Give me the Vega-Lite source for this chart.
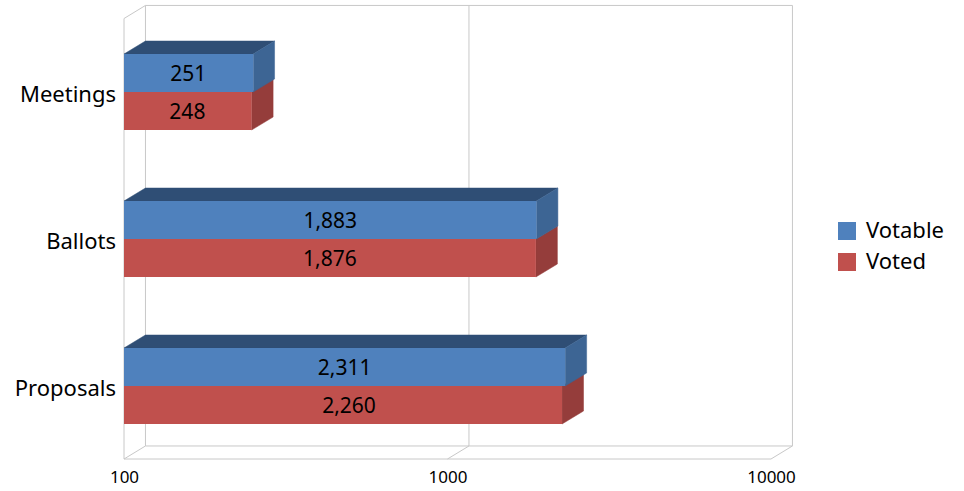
{
"$schema":"https://vega.github.io/schema/vega-lite/v6.json",
"autosize":"none","width":670,"height":454,
"padding":{"left":124,"top":5,"right":170,"bottom":32},
"background":"white",
"config":{"font":"Noto Sans","view":{"stroke":null}},
"datasets":{
"bars":[
{"category":"Meetings","series":"Votable","value":251,"lo":2,"hi":2.2585,"labelAt":158,"labelLevel":2.129},
{"category":"Meetings","series":"Voted","value":248,"lo":1.7415,"hi":2,"labelAt":157,"labelLevel":1.871},
{"category":"Ballots","series":"Votable","value":1883,"lo":1,"hi":1.2585,"labelAt":434,"labelLevel":1.129},
{"category":"Ballots","series":"Voted","value":1876,"lo":0.7415,"hi":1,"labelAt":433,"labelLevel":0.871},
{"category":"Proposals","series":"Votable","value":2311,"lo":0,"hi":0.2585,"labelAt":481,"labelLevel":0.129},
{"category":"Proposals","series":"Voted","value":2260,"lo":-0.2585,"hi":0,"labelAt":496,"labelLevel":-0.129}
],
"faces":[
{"face":"Meetings top","kind":"top","n":1,"value":100,"level":2.2585},
{"face":"Meetings top","kind":"top","n":2,"value":251,"level":2.2585},
{"face":"Meetings top","kind":"top","n":3,"value":292,"level":2.3469},
{"face":"Meetings top","kind":"top","n":4,"value":116.5,"level":2.3469},
{"face":"Meetings top","kind":"top","n":5,"value":100,"level":2.2585},
{"face":"Ballots top","kind":"top","n":1,"value":100,"level":1.2585},
{"face":"Ballots top","kind":"top","n":2,"value":1883,"level":1.2585},
{"face":"Ballots top","kind":"top","n":3,"value":2194,"level":1.3469},
{"face":"Ballots top","kind":"top","n":4,"value":116.5,"level":1.3469},
{"face":"Ballots top","kind":"top","n":5,"value":100,"level":1.2585},
{"face":"Proposals top","kind":"top","n":1,"value":100,"level":0.2585},
{"face":"Proposals top","kind":"top","n":2,"value":2311,"level":0.2585},
{"face":"Proposals top","kind":"top","n":3,"value":2692,"level":0.3469},
{"face":"Proposals top","kind":"top","n":4,"value":116.5,"level":0.3469},
{"face":"Proposals top","kind":"top","n":5,"value":100,"level":0.2585},
{"face":"Meetings blue","kind":"blueSide","n":1,"value":251,"level":2},
{"face":"Meetings blue","kind":"blueSide","n":2,"value":251,"level":2.2585},
{"face":"Meetings blue","kind":"blueSide","n":3,"value":292,"level":2.3469},
{"face":"Meetings blue","kind":"blueSide","n":4,"value":292,"level":2.0884},
{"face":"Meetings blue","kind":"blueSide","n":5,"value":251,"level":2},
{"face":"Ballots blue","kind":"blueSide","n":1,"value":1883,"level":1},
{"face":"Ballots blue","kind":"blueSide","n":2,"value":1883,"level":1.2585},
{"face":"Ballots blue","kind":"blueSide","n":3,"value":2194,"level":1.3469},
{"face":"Ballots blue","kind":"blueSide","n":4,"value":2194,"level":1.0884},
{"face":"Ballots blue","kind":"blueSide","n":5,"value":1883,"level":1},
{"face":"Proposals blue","kind":"blueSide","n":1,"value":2311,"level":0},
{"face":"Proposals blue","kind":"blueSide","n":2,"value":2311,"level":0.2585},
{"face":"Proposals blue","kind":"blueSide","n":3,"value":2692,"level":0.3469},
{"face":"Proposals blue","kind":"blueSide","n":4,"value":2692,"level":0.0884},
{"face":"Proposals blue","kind":"blueSide","n":5,"value":2311,"level":0},
{"face":"Meetings red","kind":"redSide","n":1,"value":248,"level":1.7415},
{"face":"Meetings red","kind":"redSide","n":2,"value":248,"level":2},
{"face":"Meetings red","kind":"redSide","n":3,"value":289,"level":2.0884},
{"face":"Meetings red","kind":"redSide","n":4,"value":289,"level":1.8299},
{"face":"Meetings red","kind":"redSide","n":5,"value":248,"level":1.7415},
{"face":"Ballots red","kind":"redSide","n":1,"value":1876,"level":0.7415},
{"face":"Ballots red","kind":"redSide","n":2,"value":1876,"level":1},
{"face":"Ballots red","kind":"redSide","n":3,"value":2186,"level":1.0884},
{"face":"Ballots red","kind":"redSide","n":4,"value":2186,"level":0.8299},
{"face":"Ballots red","kind":"redSide","n":5,"value":1876,"level":0.7415},
{"face":"Proposals red","kind":"redSide","n":1,"value":2260,"level":-0.2585},
{"face":"Proposals red","kind":"redSide","n":2,"value":2260,"level":0},
{"face":"Proposals red","kind":"redSide","n":3,"value":2633,"level":0.0884},
{"face":"Proposals red","kind":"redSide","n":4,"value":2633,"level":-0.1701},
{"face":"Proposals red","kind":"redSide","n":5,"value":2260,"level":-0.2585}
],
"frame":[
{"path":"floor","n":1,"value":100,"level":-0.4966},
{"path":"floor","n":2,"value":10000,"level":-0.4966},
{"path":"floor","n":3,"value":11650,"level":-0.408},
{"path":"floor","n":4,"value":116.5,"level":-0.408},
{"path":"floor","n":5,"value":100,"level":-0.4966},
{"path":"wall100","n":1,"value":100,"level":-0.4966},
{"path":"wall100","n":2,"value":100,"level":2.5},
{"path":"wall100","n":3,"value":116.5,"level":2.589},
{"path":"wall100","n":4,"value":11650,"level":2.589},
{"path":"wall100","n":5,"value":11650,"level":-0.408},
{"path":"back100","n":1,"value":116.5,"level":-0.408},
{"path":"back100","n":2,"value":116.5,"level":2.589},
{"path":"grid1000","n":1,"value":1000,"level":-0.4966},
{"path":"grid1000","n":2,"value":1165,"level":-0.408},
{"path":"grid1000","n":3,"value":1165,"level":2.589}
],
"cats":[
{"category":"Meetings","level":2},
{"category":"Ballots","level":1},
{"category":"Proposals","level":0}
]
},
"encoding":{
"x":{"type":"quantitative","scale":{"type":"log","domain":[100,11779]},"title":null,
"axis":{"values":[100,1000,10000],"domain":false,"ticks":false,"grid":false,"labelFontSize":17,"labelColor":"#000","labelPadding":10,"labelFlush":false,"labelFont":"Noto Sans","format":"d"}},
"y":{"type":"quantitative","scale":{"domain":[-0.4966,2.592],"nice":false,"zero":false},"axis":null}
},
"layer":[
{"data":{"name":"frame"},"mark":{"type":"line","stroke":"#c8c8c8","strokeWidth":1,"clip":false},
 "encoding":{"x":{"field":"value"},"y":{"field":"level"},"detail":{"field":"path"},"order":{"field":"n"}}},
{"data":{"name":"faces"},"transform":[{"filter":"datum.kind==='top'"}],"mark":{"type":"line","fill":"#2F4E75","stroke":"#2F4E75","strokeWidth":0.5},
 "encoding":{"x":{"field":"value"},"y":{"field":"level"},"detail":{"field":"face"},"order":{"field":"n"}}},
{"data":{"name":"faces"},"transform":[{"filter":"datum.kind==='redSide'"}],"mark":{"type":"line","fill":"#953D3B","stroke":"#953D3B","strokeWidth":0.5},
 "encoding":{"x":{"field":"value"},"y":{"field":"level"},"detail":{"field":"face"},"order":{"field":"n"}}},
{"data":{"name":"faces"},"transform":[{"filter":"datum.kind==='blueSide'"}],"mark":{"type":"line","fill":"#3D6594","stroke":"#3D6594","strokeWidth":0.5},
 "encoding":{"x":{"field":"value"},"y":{"field":"level"},"detail":{"field":"face"},"order":{"field":"n"}}},
{"data":{"name":"bars"},"mark":{"type":"rect"},
 "encoding":{"x":{"field":"value"},"x2":{"datum":100},"y":{"field":"lo"},"y2":{"field":"hi"},
 "color":{"field":"series","type":"nominal","scale":{"domain":["Votable","Voted"],"range":["#4F81BD","#C0504D"]},
 "legend":{"title":null,"orient":"none","legendX":712,"legendY":215,"symbolType":"square","symbolSize":324,"symbolStrokeWidth":0,"symbolOpacity":1,"labelFontSize":22,"labelFont":"Noto Sans","labelColor":"#000","labelOffset":8,"rowPadding":9,"padding":0}}}},
{"data":{"name":"bars"},"mark":{"type":"text","fontSize":21,"color":"#000","baseline":"middle","dy":2},
 "encoding":{"x":{"field":"labelAt"},"y":{"field":"labelLevel"},"text":{"field":"value","type":"quantitative","format":","}}},
{"data":{"name":"cats"},"mark":{"type":"text","fontSize":22,"color":"#000","align":"right","baseline":"middle","dx":-8,"dy":3},
 "encoding":{"x":{"datum":100},"y":{"field":"level"},"text":{"field":"category"}}}
]
}
